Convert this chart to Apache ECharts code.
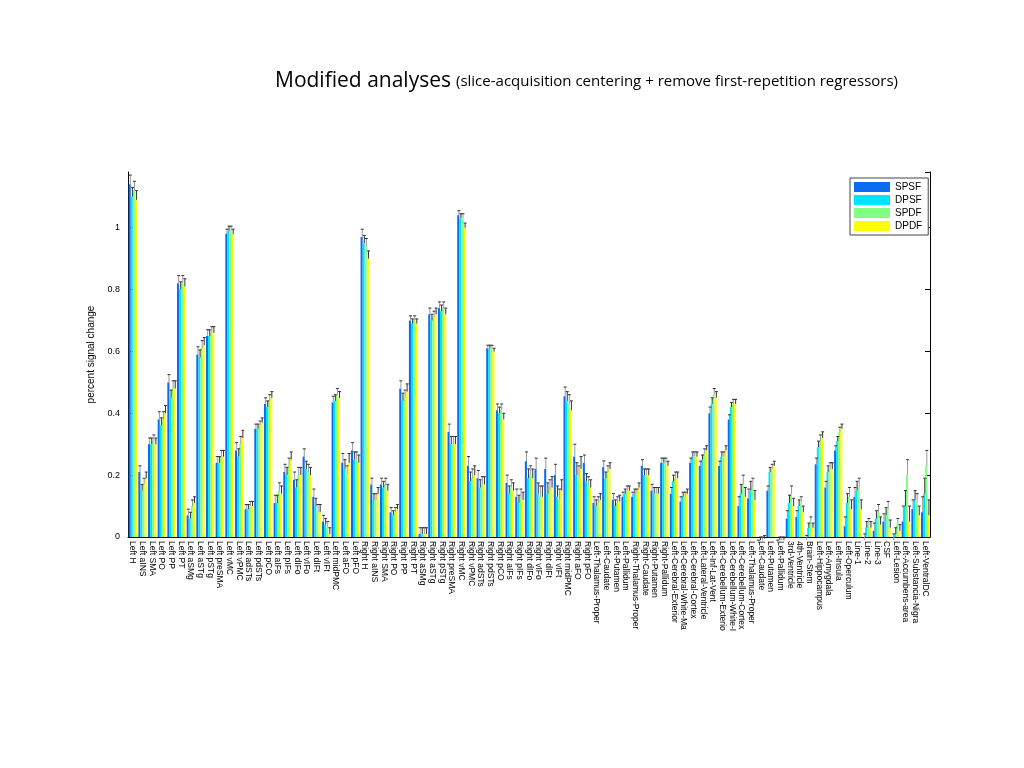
<!DOCTYPE html>
<html><head><meta charset="utf-8">
<script src="https://cdn.jsdelivr.net/npm/echarts@6/dist/echarts.min.js"></script>
<style>html,body{margin:0;padding:0;background:#fff}#c{width:1024px;height:768px}</style>
</head><body><div id="c"></div>
<script>
const categories = ["Left H","Left aINS","Left SMA","Left PO","Left PP","Left PT","Left aSMg","Left aSTg","Left pSTg","Left preSMA","Left vMC","Left vPMC","Left adSTs","Left pdSTs","Left pCO","Left aIFs","Left pIFs","Left dIFo","Left vIFo","Left dIFt","Left vIFt","Left midPMC","Left aFO","Left pFO",
"Right H","Right aINS","Right SMA","Right PO","Right PP","Right PT","Right aSMg","Right aSTg","Right pSTg","Right preSMA","Right vMC","Right vPMC","Right adSTs","Right pdSTs","Right pCO","Right aIFs","Right pIFs","Right dIFo","Right vIFo","Right dIFt","Right vIFt","Right midPMC","Right aFO","Right pFO",
"Left-Thalamus-Proper","Left-Caudate","Left-Putamen","Left-Pallidum","Right-Thalamus-Proper","Right-Caudate","Right-Putamen","Right-Pallidum","Left-Cerebral-Exterior","Left-Cerebral-White-Ma","Left-Cerebral-Cortex","Left-Lateral-Ventricle","Left-Inf-Lat-Vent","Left-Cerebellum-Exterio","Left-Cerebellum-White-I","Left-Cerebellum-Cortex","Left-Thalamus-Proper","Left-Caudate","Left-Putamen","Left-Pallidum","3rd-Ventricle","4th-Ventricle","Brain-Stem","Left-Hippocampus","Left-Amygdala","Left-Insula","Left-Operculum","Line-1","Line-2","Line-3","CSF","Left-Lesion","Left-Accumbens-area","Left-Substancia-Nigra","Left-VentralDC"];
const SPSF = [1.14,0.21,0.30,0.38,0.50,0.82,0.07,0.59,0.65,0.24,0.98,0.28,0.09,0.35,0.43,0.11,0.21,0.185,0.26,0.13,0.05,0.435,0.24,0.28,
0.97,0.17,0.17,0.08,0.48,0.70,0.01,0.72,0.74,0.34,1.04,0.23,0.19,0.61,0.41,0.175,0.13,0.245,0.22,0.22,0.20,0.455,0.26,0.24,
0.11,0.226,0.12,0.13,0.13,0.23,0.15,0.24,0.14,0.115,0.24,0.23,0.40,0.23,0.38,0.10,0.125,-0.02,0.15,-0.02,0.06,0.065,-0.01,0.235,0.16,0.28,0.035,0.13,-0.01,0.02,0.05,-0.01,0.05,0.09,0.08];
const DPSF = [1.10,0.15,0.30,0.36,0.45,0.80,0.06,0.58,0.65,0.24,0.99,0.26,0.09,0.35,0.42,0.11,0.20,0.16,0.22,0.10,0.04,0.44,0.22,0.25,
0.95,0.12,0.16,0.07,0.44,0.69,0.01,0.70,0.73,0.30,1.03,0.18,0.16,0.61,0.40,0.14,0.11,0.19,0.14,0.14,0.13,0.44,0.20,0.18,
0.10,0.19,0.10,0.14,0.14,0.20,0.14,0.24,0.18,0.13,0.26,0.25,0.43,0.26,0.42,0.14,0.15,-0.01,0.21,-0.01,0.11,0.10,0.03,0.29,0.21,0.31,0.11,0.15,0.03,0.06,0.07,0.01,0.10,0.12,0.14];
const SPDF = [1.12,0.17,0.31,0.38,0.48,0.82,0.10,0.61,0.66,0.26,0.99,0.30,0.10,0.36,0.44,0.15,0.23,0.20,0.21,0.08,0.03,0.46,0.20,0.25,
0.94,0.12,0.17,0.08,0.45,0.70,0.01,0.71,0.74,0.30,1.03,0.19,0.17,0.61,0.41,0.16,0.13,0.20,0.13,0.15,0.12,0.43,0.19,0.17,
0.11,0.21,0.11,0.15,0.14,0.20,0.14,0.24,0.19,0.13,0.26,0.27,0.46,0.26,0.43,0.17,0.16,-0.01,0.22,-0.01,0.14,0.11,0.05,0.31,0.22,0.34,0.13,0.16,0.04,0.08,0.09,0.04,0.20,0.11,0.23];
const DPDF = [1.09,0.19,0.30,0.40,0.48,0.81,0.11,0.62,0.66,0.26,0.98,0.32,0.10,0.37,0.45,0.14,0.25,0.20,0.20,0.08,0.01,0.45,0.24,0.24,
0.90,0.14,0.15,0.09,0.47,0.69,0.01,0.72,0.72,0.30,1.00,0.20,0.17,0.60,0.38,0.15,0.12,0.19,0.13,0.16,0.15,0.41,0.22,0.16,
0.12,0.22,0.115,0.15,0.16,0.20,0.14,0.23,0.19,0.14,0.26,0.28,0.45,0.28,0.43,0.13,0.12,-0.005,0.23,-0.01,0.10,0.08,0.03,0.32,0.22,0.35,0.09,0.09,0.03,0.04,0.03,0.02,0.05,0.07,0.07];
const ERR = [0.03,0.02,0.02,0.025,0.025,0.025,0.02,0.025,0.02,0.02,0.015,0.025,0.015,0.015,0.02,0.025,0.025,0.025,0.025,0.025,0.02,0.02,0.03,0.025,
0.025,0.02,0.02,0.015,0.025,0.015,0.02,0.02,0.02,0.025,0.015,0.03,0.025,0.01,0.02,0.025,0.025,0.03,0.035,0.035,0.035,0.03,0.04,0.025,
0.02,0.02,0.02,0.015,0.015,0.02,0.02,0.015,0.02,0.015,0.015,0.015,0.02,0.015,0.015,0.03,0.03,0.01,0.015,0.01,0.025,0.02,0.015,0.02,0.02,0.015,0.03,0.03,0.02,0.025,0.025,0.02,0.05,0.03,0.05];
const yTicks = [0,0.2,0.4,0.6,0.8,1];
const seriesNames = ["SPSF","DPSF","SPDF","DPDF"];
const colors = ["#0a6cf0","#00e5ff","#80ff80","#ffff00"];
const allData = [SPSF,DPSF,SPDF,DPDF];
const GAP = 0.14;
const series = [];
allData.forEach((d,k)=>{
  series.push({name:seriesNames[k],type:'bar',data:d,barGap:'0%',barCategoryGap:(GAP*100)+'%',itemStyle:{color:colors[k]},silent:true,z:2});
});
allData.forEach((d,k)=>{
  series.push({type:'custom',z:3,silent:true,data:d.map((v,i)=>[i,v,ERR[i]]),
    renderItem:(params,api)=>{
      const i=api.value(0),v=api.value(1),e=api.value(2);
      const band=api.size([1,0])[0];
      const bw=band*(1-GAP)/4;
      const c=api.coord([i,v]);
      const x=c[0]-band*(1-GAP)/2+bw*(k+0.5)+bw*0.3;
      const top=api.coord([i,v+e])[1];
      return {type:'group',children:[
        {type:'line',shape:{x1:x,y1:c[1],x2:x,y2:top},style:{stroke:k%2?'#333':'#999',lineWidth:1}},
        {type:'line',shape:{x1:x-1.5,y1:top,x2:x+1.5,y2:top},style:{stroke:'#333',lineWidth:1}}]};
    }});
});
const chart = echarts.init(document.getElementById('c'));
chart.setOption({
  animation:false,
  title:{left:270,top:66,text:'{a|Modified analyses} {b|(slice-acquisition centering + remove first-repetition regressors)}',
    textStyle:{fontWeight:'normal',rich:{a:{fontSize:21,fontWeight:'normal',fontFamily:'Open Sans',color:'#000'},b:{fontSize:15,fontWeight:'normal',fontFamily:'Open Sans',color:'#000'}}}},
  legend:{data:seriesNames,orient:'vertical',left:850,top:178,itemWidth:36,itemHeight:10,itemGap:3,
    borderColor:'#444',borderWidth:1,padding:[4,6,4,4],backgroundColor:'#fff',
    textStyle:{fontSize:10,fontFamily:'Liberation Sans',color:'#000'},icon:'rect'},
  grid:{left:128,right:94,top:172,bottom:231},
  xAxis:{type:'category',data:categories,
    axisLine:{lineStyle:{color:'#000'}},axisTick:{show:false},
    axisLabel:{interval:0,rotate:-90,fontSize:8.5,fontFamily:'Liberation Sans',color:'#000',margin:4}},
  yAxis:[{type:'value',min:0,max:1.18,interval:0.2,name:'percent signal change',nameLocation:'middle',nameGap:4,
    nameTextStyle:{fontSize:10,fontFamily:'Liberation Sans',color:'#000'},
    axisLine:{show:true,lineStyle:{color:'#000'}},axisTick:{show:true,inside:true},splitLine:{show:false},
    axisLabel:{fontSize:9,fontFamily:'Liberation Sans',color:'#000',showMaxLabel:false,formatter:v=>yTicks.includes(+v.toFixed(2))?String(+v.toFixed(2)):''}},
   {type:'value',position:'right',min:0,max:1.18,interval:0.2,axisLine:{show:true,lineStyle:{color:'#000'}},
    axisTick:{show:true,inside:true},axisLabel:{show:false},splitLine:{show:false}}],
  series:series
});
</script></body></html>
